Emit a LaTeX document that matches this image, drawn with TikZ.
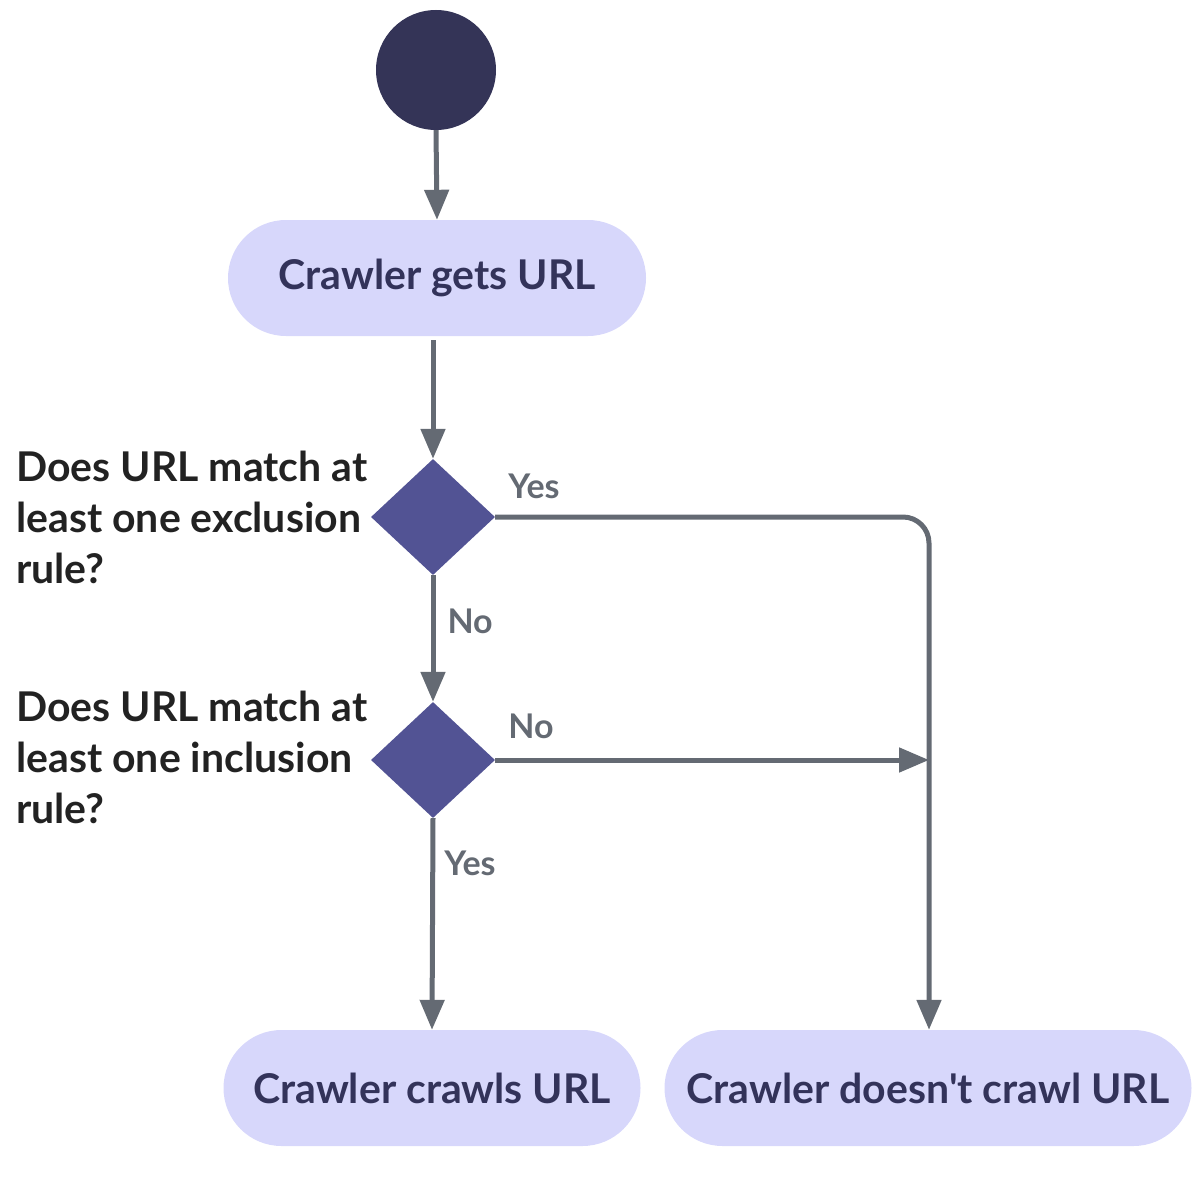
\documentclass[tikz,border=0pt]{standalone}
\usepackage{fontspec}
\setmainfont{Lato}[Ligatures=TeXOff]
\usetikzlibrary{shapes.geometric,shapes.misc,arrows.meta}
\definecolor{pillfill}{HTML}{D7D7FB}
\definecolor{pilltext}{HTML}{33335A}
\definecolor{diafill}{HTML}{525394}
\definecolor{startfill}{HTML}{343457}
\definecolor{linecol}{HTML}{646A73}
\definecolor{qtext}{HTML}{222222}
\begin{document}
\begin{tikzpicture}[x=1pt,y=-1pt,
  pill/.style={rounded rectangle, fill=pillfill, text=pilltext, minimum height=116pt, inner sep=0pt, font=\fontsize{41}{48}\selectfont\bfseries},
  decision/.style={diamond, fill=diafill, minimum width=124pt, minimum height=116pt, inner sep=0pt, aspect=1.07},
  flow/.style={draw=linecol, line width=5pt, -{Triangle[length=30pt,width=24pt]}},
  lbl/.style={text=linecol, font=\fontsize{34}{40}\selectfont\bfseries, inner sep=0pt},
  question/.style={text=qtext, align=left, anchor=west, inner sep=0pt, font=\fontsize{41}{51}\selectfont\bfseries}
]
\useasboundingbox (0,0) rectangle (1200,1188);
\node[circle, fill=startfill, minimum size=120pt, inner sep=0pt] (start) at (436,70) {};
\node[pill, minimum width=418pt] (get) at (437,278) {Crawler gets URL};
\node[decision] (d1) at (433,517) {};
\node[decision] (d2) at (433,760) {};
\node[pill, minimum width=417pt] (crawl) at (432,1088) {Crawler crawls URL};
\node[pill, minimum width=527pt] (nocrawl) at (928,1088) {Crawler doesn't crawl URL};
\node[question] (q1) at (16,517) {Does URL match at\\least one exclusion\\rule?};
\node[question] (q2) at (16,757) {Does URL match at\\least one inclusion\\rule?};
\coordinate (join) at (929,760);
\draw[flow] (start.south) -- (get.north);
\draw[flow] (433,340) -- (d1.north);
\draw[flow] (d1.south) -- node[lbl, anchor=west, xshift=12pt, pos=0.365] (lno1) {No} (d2.north);
\draw[flow] (d2.south) -- node[lbl, anchor=west, xshift=9pt, pos=0.213] (lyes2) {Yes} (crawl.north);
\draw[flow, rounded corners=26pt] (d1.east) -- (929,517) -- (nocrawl.north -| join);
\draw[flow] (d2.east) -- (join);
\node[lbl] (lyes1) at (534,486) {Yes};
\node[lbl] (lno2) at (531,726) {No};
\end{tikzpicture}
\end{document}
